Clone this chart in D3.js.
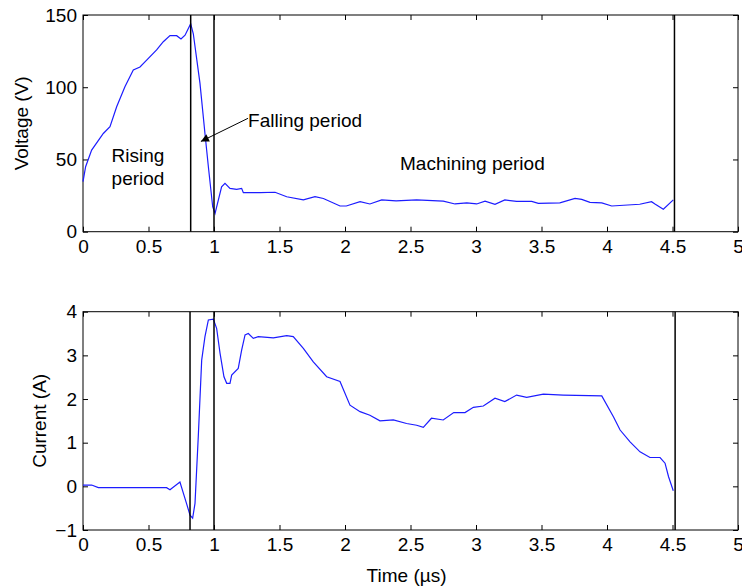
<!doctype html>
<html lang="en">
<head>
    <meta charset="utf-8"/>
    <title>Voltage and current</title>
    <script src="https://d3js.org/d3.v7.min.js"></script>
    <style>
        body { margin: 0; padding: 0; background: white; }
        svg text { font-family: 'Liberation Sans', Arial, sans-serif; fill: #000; }
    </style>
</head>
<body>
<script>
    // time axis ticks, shared by both panels
    const timeTicks = [0, 0.5, 1, 1.5, 2, 2.5, 3, 3.5, 4, 4.5, 5]
    const voltTicks = [0, 50, 100, 150]
    const currTicks = [-1, 0, 1, 2, 3, 4]

    // period boundaries (µs)
    const voltMarkers = [0.822, 1.0, 4.515]
    const currMarkers = [0.817, 1.0, 4.52]

    // voltage trace: [time µs, V]
    const voltage = [
        [0, 34.6], [0.02, 45], [0.066, 56.5], [0.155, 68], [0.206, 72.7], [0.257, 86.5],
        [0.32, 100.4], [0.384, 112], [0.435, 114], [0.486, 118.8], [0.562, 125.8],
        [0.613, 131.5], [0.664, 135.7], [0.715, 135.7], [0.748, 133.4], [0.779, 136],
        [0.822, 144], [0.842, 137], [0.893, 102.7], [0.931, 68], [0.957, 45], [0.99, 17.3],
        [1.008, 12.7], [1.058, 31], [1.084, 33.5], [1.122, 30], [1.173, 29.3], [1.211, 30],
        [1.224, 27], [1.351, 27], [1.466, 27.3], [1.555, 24.2], [1.682, 22], [1.771, 24.2],
        [1.835, 23], [1.962, 17.8], [2.01, 17.8], [2.115, 20.8], [2.19, 19.2], [2.28, 22],
        [2.39, 21.3], [2.547, 22], [2.75, 21.2], [2.84, 19.2], [2.93, 20], [3.005, 19.2],
        [3.069, 21.2], [3.145, 19], [3.22, 22], [3.31, 21], [3.425, 21], [3.476, 19.6],
        [3.64, 20], [3.756, 23], [3.807, 22.4], [3.87, 20.3], [3.96, 20], [4.036, 17.8],
        [4.25, 19], [4.34, 20.8], [4.366, 19.2], [4.43, 15.5], [4.506, 22]
    ]

    // current trace: [time µs, A]
    const current = [
        [0, 0.03], [0.066, 0.03], [0.117, -0.03], [0.638, -0.03], [0.664, -0.08], [0.74, 0.1],
        [0.79, -0.39], [0.817, -0.66], [0.837, -0.73], [0.855, -0.39], [0.88, 1.14],
        [0.906, 2.89], [0.931, 3.43], [0.957, 3.81], [0.995, 3.83], [1.02, 3.62],
        [1.046, 3.05], [1.076, 2.51], [1.097, 2.36], [1.122, 2.36], [1.135, 2.55],
        [1.185, 2.7], [1.211, 3.12], [1.237, 3.47], [1.262, 3.5], [1.3, 3.39], [1.338, 3.43],
        [1.453, 3.4], [1.555, 3.45], [1.605, 3.43], [1.682, 3.16], [1.758, 2.85], [1.86, 2.51],
        [1.962, 2.4], [2.038, 1.86], [2.115, 1.71], [2.19, 1.63], [2.267, 1.5], [2.369, 1.52],
        [2.47, 1.44], [2.547, 1.4], [2.598, 1.35], [2.66, 1.56], [2.75, 1.52], [2.83, 1.69],
        [2.916, 1.69], [2.98, 1.81], [3.056, 1.84], [3.145, 2.02], [3.22, 1.94], [3.31, 2.09],
        [3.387, 2.04], [3.514, 2.11], [3.666, 2.09], [3.96, 2.07], [4.05, 1.59], [4.1, 1.29],
        [4.176, 1.02], [4.252, 0.79], [4.328, 0.66], [4.405, 0.66], [4.443, 0.53],
        [4.47, 0.22], [4.506, -0.1]
    ]

    const width = 742, height = 588
    const left = 83, right = 738
    const fontSize = 19

    const svg = d3.select("body").append("svg")
        .attr("width", width)
        .attr("height", height)

    svg.append("defs").append("marker")
        .attr("id", "arrow")
        .attr("viewBox", "0 0 10 10")
        .attr("refX", 10).attr("refY", 5)
        .attr("markerWidth", 11).attr("markerHeight", 8)
        .attr("markerUnits", "userSpaceOnUse")
        .attr("orient", "auto")
        .append("path").attr("d", "M0,0L10,5L0,10z").attr("fill", "#000")

    const x = d3.scaleLinear().domain([0, 5]).range([left, right])

    // draws one MATLAB-style panel and returns its y scale
    function panel(top, bottom, yDomain, yTicks, data, markers, yLabel, labelX) {
        const y = d3.scaleLinear().domain(yDomain).range([bottom, top])
        const g = svg.append("g")

        // inward ticks on all four sides
        g.append("g").attr("transform", `translate(0,${bottom})`)
            .call(d3.axisBottom(x).tickValues(timeTicks).tickSize(-5).tickPadding(8)
                .tickFormat(d3.format("")))
        g.append("g").attr("transform", `translate(0,${top})`)
            .call(d3.axisTop(x).tickValues(timeTicks).tickSize(-5).tickFormat(""))
        g.append("g").attr("transform", `translate(${left},0)`)
            .call(d3.axisLeft(y).tickValues(yTicks).tickSize(-5).tickPadding(6)
                .tickFormat(d3.format("")))
        g.append("g").attr("transform", `translate(${right},0)`)
            .call(d3.axisRight(y).tickValues(yTicks).tickSize(-5).tickFormat(""))

        g.selectAll(".domain").remove()
        g.selectAll(".tick line").attr("stroke", "#000")
        g.selectAll(".tick text").style("font-size", fontSize + "px")
            .attr("font-family", null)

        g.append("rect")
            .attr("x", left).attr("y", top)
            .attr("width", right - left).attr("height", bottom - top)
            .attr("fill", "none").attr("stroke", "#000").attr("stroke-width", 1)

        g.append("path")
            .datum(data)
            .attr("fill", "none")
            .attr("stroke", "#1c1cff")
            .attr("stroke-width", 1.2)
            .attr("d", d3.line().x(d => x(d[0])).y(d => y(d[1])))

        g.selectAll(".marker")
            .data(markers)
            .enter().append("line")
            .attr("x1", d => x(d)).attr("x2", d => x(d))
            .attr("y1", top).attr("y2", bottom)
            .attr("stroke", "#000").attr("stroke-width", 1.5)

        g.append("text")
            .attr("transform", `translate(${labelX},${(top + bottom) / 2}) rotate(-90)`)
            .attr("text-anchor", "middle")
            .attr("dy", "0.35em")
            .style("font-size", fontSize + "px")
            .text(yLabel)

        return y
    }

    const yV = panel(15, 231.7, [0, 150], voltTicks, voltage, voltMarkers, "Voltage (V)", 21)
    const yI = panel(311.7, 530, [-1, 4], currTicks, current, currMarkers, "Current (A)", 39)

    // annotations on the voltage panel
    svg.append("text")
        .attr("x", x(0.42)).attr("y", 162)
        .attr("text-anchor", "middle")
        .style("font-size", fontSize + "px")
        .selectAll("tspan")
        .data(["Rising", "period"])
        .enter().append("tspan")
        .attr("x", x(0.42))
        .attr("dy", (d, i) => i === 0 ? 0 : "1.2em")
        .text(d => d)

    svg.append("text")
        .attr("x", x(1.26)).attr("y", 127)
        .style("font-size", fontSize + "px")
        .text("Falling period")

    svg.append("line")
        .attr("x1", x(1.26)).attr("y1", yV(78.5))
        .attr("x2", x(0.9)).attr("y2", yV(62.5))
        .attr("stroke", "#000").attr("stroke-width", 1)
        .attr("marker-end", "url(#arrow)")

    svg.append("text")
        .attr("x", x(2.42)).attr("y", 170)
        .style("font-size", fontSize + "px")
        .text("Machining period")

    svg.append("text")
        .attr("x", x(2.47)).attr("y", 582)
        .attr("text-anchor", "middle")
        .style("font-size", fontSize + "px")
        .text("Time (µs)")
</script>
</body>
</html>
